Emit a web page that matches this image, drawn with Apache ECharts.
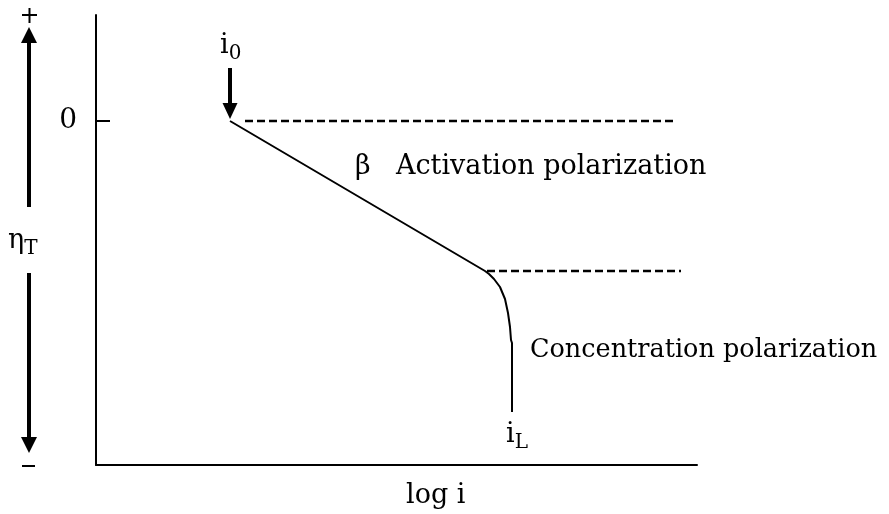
<!DOCTYPE html>
<html>
<head>
<meta charset="utf-8">
<script src="https://cdn.jsdelivr.net/npm/echarts@6/dist/echarts.min.js"></script>
<style>
  html, body { margin: 0; padding: 0; background: #fff; }
  #chart { width: 889px; height: 514px; }
</style>
</head>
<body>
<div id="chart"></div>
<script>
// Polarization curve: overpotential η_T against log i
const logI = [1.34, 3.89, 3.93, 3.98, 4.04, 4.09, 4.12, 4.14, 4.15, 4.16, 4.16];
const eta  = [0.00, -1.50, -1.53, -1.58, -1.66, -1.78, -1.92, -2.06, -2.19, -2.22, -2.91];

// Horizontal dashed guides: exchange-current level and limiting-current onset
const guideZero  = [[1.49, 0.00], [5.80, 0.00]];
const guideLimit = [[3.91, -1.50], [5.85, -1.50]];

// i0 marker arrow (pointing down onto the curve start)
const i0Arrow = [[1.34, 0.53], [1.34, 0.10]];

const yTicks = [0];
const yTickLabels = ['0'];

const FONT = 'DejaVu Serif';

const chart = echarts.init(document.getElementById('chart'), null, { renderer: 'canvas' });

const curve = logI.map((x, k) => [x, eta[k]]);

function label(text, left, top, size) {
  return {
    type: 'text', left, top,
    style: { text, fontFamily: FONT, fontSize: size, fill: '#000' }
  };
}

function subLabel(main, sub, left, top) {
  return {
    type: 'text', left, top,
    style: {
      text: '{a|' + main + '}{b|' + sub + '}', fill: '#000',
      rich: {
        a: { fontFamily: FONT, fontSize: 27, lineHeight: 30 },
        b: { fontFamily: FONT, fontSize: 20, lineHeight: 30, padding: [16, 0, 0, 0] }
      }
    }
  };
}

chart.setOption({
  animation: false,
  backgroundColor: '#ffffff',
  grid: { left: 96, top: 15, width: 601, height: 450 },
  xAxis: {
    type: 'value', min: 0, max: 6.01,
    axisLine: { show: true, onZero: false, lineStyle: { color: '#000', width: 2 } },
    axisTick: { show: false },
    axisLabel: { show: false },
    splitLine: { show: false }
  },
  yAxis: {
    type: 'value', min: -3.44, max: 1.06,
    axisLine: { show: true, onZero: false, lineStyle: { color: '#000', width: 2 } },
    axisTick: { show: true, inside: true, length: 14, lineStyle: { color: '#000', width: 2 }, customValues: yTicks },
    axisLabel: {
      show: true, margin: 19, color: '#000', fontFamily: FONT, fontSize: 28,
      customValues: yTicks,
      formatter: v => yTickLabels[yTicks.indexOf(v)] ?? ''
    },
    splitLine: { show: false }
  },
  series: [
    {
      type: 'line', data: curve, symbol: 'none', smooth: false,
      lineStyle: { color: '#000', width: 2 }
    },
    {
      type: 'line', data: guideZero, symbol: 'none',
      lineStyle: { color: '#000', width: 2.5, type: [8, 4] }
    },
    {
      type: 'line', data: guideLimit, symbol: 'none',
      lineStyle: { color: '#000', width: 2.5, type: [8, 4] }
    },
    {
      type: 'line', data: [], symbol: 'none',
      markLine: {
        silent: true, animation: false,
        symbol: ['none', 'triangle'], symbolSize: [15, 16], symbolRotate: 180,
        label: { show: false },
        lineStyle: { color: '#000', width: 4, type: 'solid' },
        data: [[{ coord: i0Arrow[0] }, { coord: i0Arrow[1] }]]
      }
    }
  ],
  graphic: [
    // vertical η_T direction arrows at the left
    { type: 'line', shape: { x1: 29, y1: 40, x2: 29, y2: 207 }, style: { stroke: '#000', lineWidth: 4 } },
    { type: 'polygon', shape: { points: [[21, 43], [37, 43], [29, 27]] }, style: { fill: '#000' } },
    { type: 'line', shape: { x1: 29, y1: 273, x2: 29, y2: 440 }, style: { stroke: '#000', lineWidth: 4 } },
    { type: 'polygon', shape: { points: [[21, 437], [37, 437], [29, 453]] }, style: { fill: '#000' } },
    { type: 'line', shape: { x1: 22, y1: 15, x2: 37, y2: 15 }, style: { stroke: '#000', lineWidth: 2 } },
    { type: 'line', shape: { x1: 29.5, y1: 8, x2: 29.5, y2: 23 }, style: { stroke: '#000', lineWidth: 2 } },
    { type: 'line', shape: { x1: 22, y1: 466, x2: 35, y2: 466 }, style: { stroke: '#000', lineWidth: 2 } },
    subLabel('η', 'T', 8, 223),
    subLabel('i', '0', 220, 28),
    subLabel('i', 'L', 506, 417),
    label('β', 355, 153, 27),
    label('Activation polarization', 396, 153, 27),
    label('Concentration polarization', 530, 337, 25.5),
    label('log i', 406, 482, 27)
  ]
});
</script>
</body>
</html>
